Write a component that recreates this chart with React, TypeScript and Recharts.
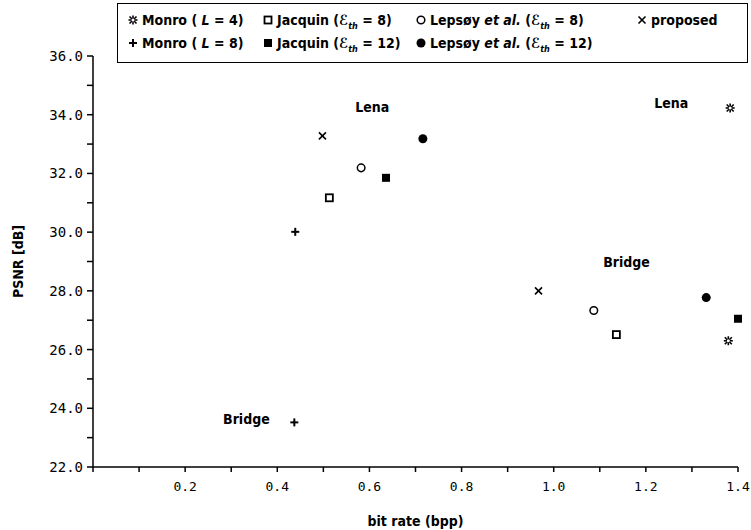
import { ScatterChart, Scatter, XAxis, YAxis, Legend } from "recharts";

// bit rate (bpp) vs PSNR (dB), two test images (Lena up top, Bridge below)
const monroL4 = [
  { rate: 1.383, psnr: 34.23 },
  { rate: 1.379, psnr: 26.3 },
];
const monroL8 = [
  { rate: 0.439, psnr: 30.01 },
  { rate: 0.437, psnr: 23.52 },
];
const jacquin8 = [
  { rate: 0.513, psnr: 31.17 },
  { rate: 1.136, psnr: 26.51 },
];
const jacquin12 = [
  { rate: 0.636, psnr: 31.85 },
  { rate: 1.4, psnr: 27.05 },
];
const lepsoy8 = [
  { rate: 0.582, psnr: 32.19 },
  { rate: 1.087, psnr: 27.33 },
];
const lepsoy12 = [
  { rate: 0.716, psnr: 33.18 },
  { rate: 1.331, psnr: 27.77 },
];
const proposed = [
  { rate: 0.498, psnr: 33.28 },
  { rate: 0.967, psnr: 28.0 },
];

const imageLabels = [
  { name: "Lena", rate: 0.606, psnr: 34.27 },
  { name: "Lena", rate: 1.255, psnr: 34.4 },
  { name: "Bridge", rate: 1.158, psnr: 29.0 },
  { name: "Bridge", rate: 0.333, psnr: 23.62 },
];

const xTicks = [0, 0.1, 0.2, 0.3, 0.4, 0.5, 0.6, 0.7, 0.8, 0.9, 1.0, 1.1, 1.2, 1.3, 1.4];
const xLabelled = [0.2, 0.4, 0.6, 0.8, 1.0, 1.2, 1.4];
const yTicks = [22, 23, 24, 25, 26, 27, 28, 29, 30, 31, 32, 33, 34, 35, 36];
const yLabelled = [22, 24, 26, 28, 30, 32, 34, 36];

const NARROW = '"DejaVu Sans", sans-serif';
const MONO = '"DejaVu Sans Mono", monospace';
const INK = "#000";

type MarkKind = "star" | "plus" | "openSq" | "fillSq" | "openCirc" | "fillCirc" | "cross";

function Mark({ kind, cx, cy }: { kind: MarkKind; cx: number; cy: number }) {
  switch (kind) {
    case "star":
      return (
        <g stroke={INK} strokeWidth={1.6}>
          <line x1={cx - 4.5} y1={cy} x2={cx + 4.5} y2={cy} />
          <line x1={cx} y1={cy - 4.5} x2={cx} y2={cy + 4.5} />
          <line x1={cx - 3.5} y1={cy - 3.5} x2={cx + 3.5} y2={cy + 3.5} />
          <line x1={cx - 3.5} y1={cy + 3.5} x2={cx + 3.5} y2={cy - 3.5} />
          <circle cx={cx} cy={cy} r={1.5} fill="#fff" stroke="none" />
        </g>
      );
    case "plus":
      return (
        <g stroke={INK} strokeWidth={2}>
          <line x1={cx - 4} y1={cy} x2={cx + 4} y2={cy} />
          <line x1={cx} y1={cy - 4} x2={cx} y2={cy + 4} />
        </g>
      );
    case "cross":
      return (
        <g stroke={INK} strokeWidth={1.6}>
          <line x1={cx - 3.5} y1={cy - 3.5} x2={cx + 3.5} y2={cy + 3.5} />
          <line x1={cx - 3.5} y1={cy + 3.5} x2={cx + 3.5} y2={cy - 3.5} />
        </g>
      );
    case "openSq":
      return <rect x={cx - 3.5} y={cy - 3.5} width={7} height={7} fill="#fff" stroke={INK} strokeWidth={1.8} />;
    case "fillSq":
      return <rect x={cx - 4} y={cy - 4} width={8} height={8} fill={INK} />;
    case "openCirc":
      return <circle cx={cx} cy={cy} r={3.8} fill="#fff" stroke={INK} strokeWidth={1.5} />;
    case "fillCirc":
      return <circle cx={cx} cy={cy} r={4.5} fill={INK} />;
  }
}

const shapeOf = (kind: MarkKind) => (p: any) => <Mark kind={kind} cx={p.cx} cy={p.cy} />;

const LabelShape = (p: any) => (
  <text
    x={p.cx}
    y={p.cy}
    textAnchor="middle"
    dominantBaseline="central"
    fontFamily={NARROW}
    fontWeight="bold"
    fontSize={14}
    style={{ fontStretch: "condensed" }}
    fill={INK}
  >
    {p.payload.name}
  </text>
);

function Sym({ kind }: { kind: MarkKind }) {
  return (
    <svg width={12} height={12} style={{ verticalAlign: "-1px", marginRight: 3 }}>
      <Mark kind={kind} cx={6} cy={6} />
    </svg>
  );
}

const Eth = ({ v }: { v: string }) => (
  <>
    (<i>ℰ</i>
    <sub style={{ fontSize: 9, fontStyle: "italic" }}>th</sub> = {v})
  </>
);

function LegendBox() {
  const row = { display: "flex", whiteSpace: "nowrap" as const, height: 23 };
  return (
    <div
      style={{
        border: "1.5px solid #000",
        boxSizing: "border-box",
        width: 631,
        height: 60,
        padding: "7px 0 0 9px",
        fontFamily: NARROW,
        fontStretch: "condensed",
        fontWeight: "bold",
        fontSize: 14,
        color: INK,
        lineHeight: "18px",
      }}
    >
      <div style={row}>
        <span style={{ width: 135 }}><Sym kind="star" />Monro ( <i>L</i> = 4)</span>
        <span style={{ width: 153 }}><Sym kind="openSq" />Jacquin <Eth v="8" /></span>
        <span style={{ width: 221 }}><Sym kind="openCirc" />Lepsøy <i>et al.</i> <Eth v="8" /></span>
        <span><Sym kind="cross" />proposed</span>
      </div>
      <div style={row}>
        <span style={{ width: 135 }}><Sym kind="plus" />Monro ( <i>L</i> = 8)</span>
        <span style={{ width: 153 }}><Sym kind="fillSq" />Jacquin <Eth v="12" /></span>
        <span style={{ width: 221 }}><Sym kind="fillCirc" />Lepsøy <i>et al.</i> <Eth v="12" /></span>
      </div>
    </div>
  );
}

export default function App() {
  return (
    <div style={{ position: "absolute", left: 0, top: 0, background: "#fff" }}>
      <ScatterChart width={751} height={530} margin={{ top: 56, right: 13, left: 0, bottom: 0 }}>
        <XAxis
          type="number"
          dataKey="rate"
          domain={[0, 1.4]}
          ticks={xTicks}
          interval={0}
          tickFormatter={(v: number) => (xLabelled.some((t) => Math.abs(t - v) < 1e-6) ? v.toFixed(1) : "")}
          tick={{ fontFamily: MONO, fontSize: 13, fill: INK }}
          tickSize={5}
          tickMargin={10}
          height={63}
          stroke={INK}
          strokeWidth={1.5}
          label={{
            value: "bit rate (bpp)",
            position: "insideBottom",
            offset: 4,
            style: { fontFamily: NARROW, fontStretch: "condensed", fontWeight: "bold", fontSize: 14, fill: INK },
          }}
        />
        <YAxis
          type="number"
          dataKey="psnr"
          domain={[22, 36]}
          ticks={yTicks}
          interval={0}
          tickFormatter={(v: number) => (yLabelled.includes(v) ? v.toFixed(1) : "")}
          tick={{ fontFamily: MONO, fontSize: 14, fill: INK }}
          tickSize={6}
          tickMargin={4}
          width={93}
          stroke={INK}
          strokeWidth={1.5}
          label={{
            value: "PSNR [dB]",
            angle: -90,
            position: "insideLeft",
            offset: 18,
            style: { fontFamily: NARROW, fontStretch: "condensed", fontWeight: "bold", fontSize: 14, fill: INK, textAnchor: "middle" },
          }}
        />
        <Legend
          layout="vertical"
          verticalAlign="middle"
          align="center"
          content={() => <LegendBox />}
          wrapperStyle={{ top: 3, left: 117, width: 631 }}
        />
        <Scatter name="Monro L=4" data={monroL4} shape={shapeOf("star")} isAnimationActive={false} />
        <Scatter name="Monro L=8" data={monroL8} shape={shapeOf("plus")} isAnimationActive={false} />
        <Scatter name="Jacquin 8" data={jacquin8} shape={shapeOf("openSq")} isAnimationActive={false} />
        <Scatter name="Jacquin 12" data={jacquin12} shape={shapeOf("fillSq")} isAnimationActive={false} />
        <Scatter name="Lepsoy 8" data={lepsoy8} shape={shapeOf("openCirc")} isAnimationActive={false} />
        <Scatter name="Lepsoy 12" data={lepsoy12} shape={shapeOf("fillCirc")} isAnimationActive={false} />
        <Scatter name="proposed" data={proposed} shape={shapeOf("cross")} isAnimationActive={false} />
        <Scatter name="labels" data={imageLabels} shape={LabelShape} isAnimationActive={false} />
      </ScatterChart>
    </div>
  );
}
